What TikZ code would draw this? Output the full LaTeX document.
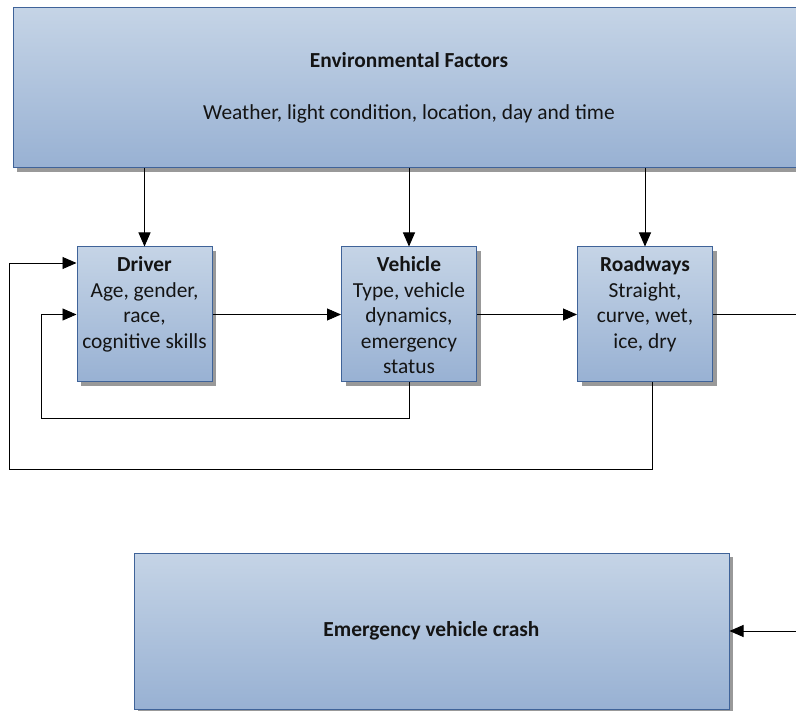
\documentclass[tikz,border=0pt]{standalone}
\usepackage{fontspec}
\setmainfont{Carlito}
\usetikzlibrary{arrows.meta,shadows}
\definecolor{boxtop}{HTML}{C5D4E6}
\definecolor{boxbot}{HTML}{98B1D3}
\definecolor{boxedge}{HTML}{3F6399}
\definecolor{txt}{HTML}{141414}
\newcommand\boxtext[1]{\parbox[c][135pt][t]{135pt}{\centering\rule{0pt}{25pt}#1}}
\begin{document}
\begin{tikzpicture}[x=1pt,y=-1pt,
  box/.style={draw=boxedge, line width=1pt, top color=boxtop, bottom color=boxbot,
    drop shadow={shadow xshift=4pt, shadow yshift=-4pt, fill=black!40, opacity=1},
    inner sep=0pt, text=txt, font=\fontsize{21.4}{25.5}\selectfont},
  conn/.style={line width=0.9pt, draw=black},
  arr/.style={conn, -{Triangle[length=14pt,width=12pt]}}]
\clip (0,0) rectangle (796,711);
\fill[white] (0,0) rectangle (796,711);
% nodes
\node[box, minimum width=792pt, minimum height=160pt, align=center] (env) at (409,88)
  {{\bfseries Environmental Factors}\\[27pt]Weather, light condition, location, day and time};
\node[box] (driver) at (144.5,314.5) {\boxtext{\textbf{Driver}\\Age, gender,\\race,\\cognitive skills}};
\node[box] (veh) at (409,314.5) {\boxtext{\textbf{Vehicle}\\Type, vehicle\\dynamics,\\emergency\\status}};
\node[box] (road) at (645,314.5) {\boxtext{\textbf{Roadways}\\Straight,\\curve, wet,\\ice, dry}};
\node[box, minimum width=595pt, minimum height=156pt] (crash) at (431.5,631)
  {\bfseries Emergency vehicle crash};
% bend points
\coordinate (c1) at (41,418);
\coordinate (c2) at (9,469);
\coordinate (rc) at (815,631);
% connectors
\draw[arr] (env.south -| driver.north) -- (driver.north);
\draw[arr] (env.south -| veh.north) -- (veh.north);
\draw[arr] (env.south -| road.north) -- (road.north);
\draw[arr] (driver.east) -- (veh.west);
\draw[arr] (veh.east) -- (road.west);
\draw[arr] (road.east) -| (rc) -- (crash.east);
\draw[arr] (veh.south) |- (c1) |- (driver.west);
\draw[arr] ([xshift=7pt]road.south) |- (c2) |- ([yshift=51.5pt]driver.west);
\end{tikzpicture}
\end{document}
